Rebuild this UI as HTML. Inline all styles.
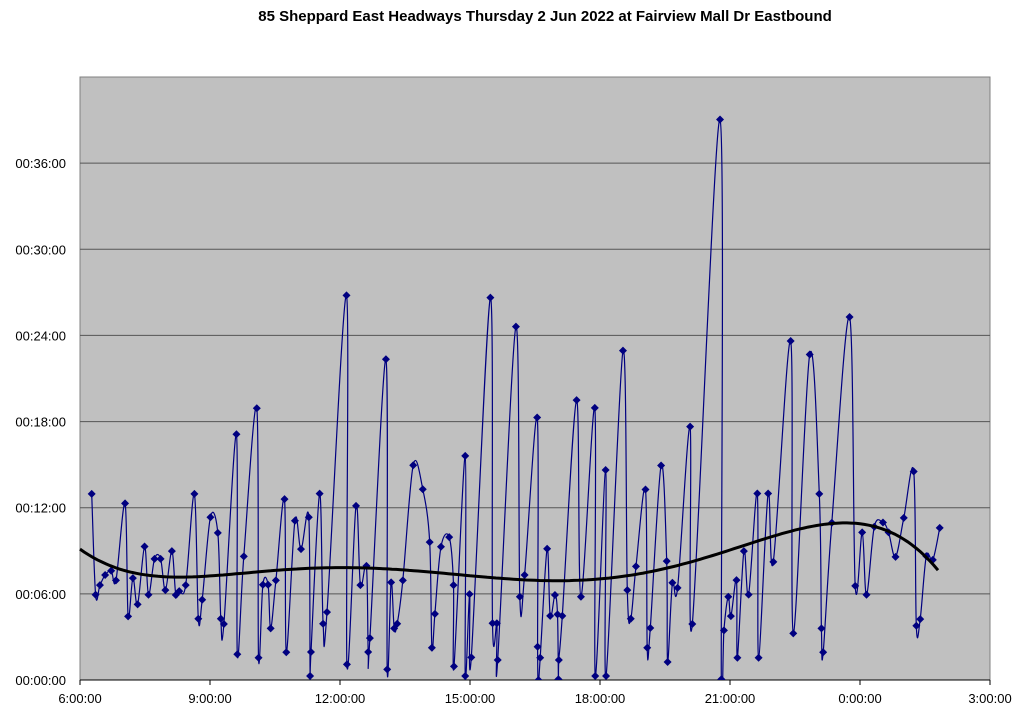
<!DOCTYPE html>
<html><head><meta charset="utf-8"><style>
body{margin:0;background:#fff;}
svg{display:block;font-family:"Liberation Sans",Arial,sans-serif;}
</style></head><body>
<svg id="chart" width="1024" height="714" viewBox="0 0 1024 714" xmlns="http://www.w3.org/2000/svg">
<defs><clipPath id="pc"><rect x="80" y="60" width="910" height="620"/></clipPath></defs>
<text x="545" y="21" text-anchor="middle" font-size="15" font-weight="bold">85 Sheppard East Headways Thursday 2 Jun 2022 at Fairview Mall Dr Eastbound</text>
<rect x="80" y="77" width="910" height="603" fill="#c0c0c0" stroke="#808080" stroke-width="1"/>
<g id="grid"></g>
<g id="axes"></g>
<g id="series" clip-path="url(#pc)"></g>
<g id="trend"></g>
</svg>
<script>
// time of day in hours (24+ = after midnight), headway in minutes
const times = [6.27,6.36,6.46,6.58,6.72,6.83,7.04,7.11,7.22,7.33,7.49,7.58,7.72,7.86,7.97,8.12,8.21,8.29,8.44,8.64,8.73,8.82,9.01,9.18,9.25,9.32,9.61,9.63,9.78,10.08,10.12,10.22,10.34,10.40,10.52,10.72,10.76,10.96,11.10,11.28,11.31,11.33,11.53,11.61,11.70,12.15,12.16,12.37,12.47,12.61,12.65,12.69,13.06,13.09,13.18,13.25,13.32,13.45,13.69,13.91,14.07,14.12,14.19,14.33,14.52,14.62,14.63,14.89,14.89,14.99,15.03,15.47,15.52,15.62,15.64,16.06,16.15,16.26,16.55,16.56,16.58,16.62,16.78,16.85,16.96,17.02,17.04,17.05,17.13,17.46,17.56,17.88,17.89,18.13,18.14,18.53,18.63,18.71,18.83,19.05,19.09,19.16,19.41,19.54,19.56,19.67,19.79,20.08,20.13,20.77,20.80,20.86,20.96,21.02,21.15,21.17,21.32,21.43,21.63,21.66,21.88,22.00,22.40,22.46,22.84,23.06,23.11,23.15,23.35,23.76,23.89,24.05,24.15,24.33,24.53,24.66,24.82,25.01,25.24,25.30,25.39,25.53,25.68,25.84];
const headways = [12.96,5.94,6.61,7.31,7.61,6.94,12.30,4.43,7.10,5.27,9.30,5.94,8.44,8.44,6.26,8.98,5.92,6.19,6.61,12.96,4.27,5.59,11.34,10.25,4.27,3.90,17.12,1.79,8.61,18.93,1.55,6.63,6.63,3.60,6.94,12.60,1.93,11.09,9.12,11.34,0.28,1.95,12.98,3.92,4.73,26.79,1.09,12.13,6.61,7.95,1.95,2.92,22.34,0.74,6.80,3.60,3.92,6.94,14.96,13.29,9.60,2.25,4.61,9.28,9.95,6.61,0.95,15.61,0.28,5.98,1.58,26.63,3.95,3.95,1.39,24.61,5.80,7.31,18.28,2.32,0.0,1.55,9.14,4.47,5.92,4.57,0.05,1.39,4.47,19.49,5.80,18.95,0.28,14.63,0.28,22.94,6.26,4.27,7.91,13.27,2.25,3.62,14.94,8.28,1.25,6.77,6.42,17.65,3.90,39.04,0.05,3.46,5.80,4.45,6.96,1.55,8.98,5.95,12.99,1.55,12.99,8.23,23.61,3.25,22.67,12.96,3.60,1.93,10.95,25.28,6.56,10.28,5.94,10.67,10.97,10.28,8.58,11.29,14.52,3.78,4.24,8.63,8.37,10.60];
const trendTimes = [6.0,7.6,9.0,12.0,15.0,17.0,19.0,21.0,23.3,24.0,25.8];
const trendValues = [9.12,7.3,7.2,7.9,7.2,6.9,7.5,9.05,10.85,10.9,7.65];
const yTicks = [0,6,12,18,24,30,36];
const yTickLabels = ["00:00:00","00:06:00","00:12:00","00:18:00","00:24:00","00:30:00","00:36:00"];
const xTicks = [6,9,12,15,18,21,24,27];
const xTickLabels = ["6:00:00","9:00:00","12:00:00","15:00:00","18:00:00","21:00:00","0:00:00","3:00:00"];

const NS="http://www.w3.org/2000/svg";
const X = t => 80 + (t-6)*(910/21);
const Y = m => 680 - m*(603/42);
function mk(tag, parent){const e=document.createElementNS(NS,tag);parent.appendChild(e);return e;}
const grid=document.getElementById('grid'), axes=document.getElementById('axes');
yTicks.forEach((v,i)=>{
  if(v>0){const l=mk('line',grid);
  
  
  l.setAttribute('x1',80);l.setAttribute('x2',990);l.setAttribute('y1',Y(v));l.setAttribute('y2',Y(v));
  l.setAttribute('stroke','#555');l.setAttribute('stroke-width','1');}
  const t=mk('text',axes);
  
  
  t.setAttribute('x',66);t.setAttribute('y',Y(v)+5);t.setAttribute('text-anchor','end');t.setAttribute('font-size','13');
  t.textContent=yTickLabels[i];
});
const xa=mk('line',axes);


xa.setAttribute('x1',80);xa.setAttribute('x2',990);xa.setAttribute('y1',680);xa.setAttribute('y2',680);xa.setAttribute('stroke','#000');
xTicks.forEach((v,i)=>{
  const l=mk('line',axes);
  
  
  l.setAttribute('x1',X(v));l.setAttribute('x2',X(v));l.setAttribute('y1',680);l.setAttribute('y2',685);l.setAttribute('stroke','#000');
  const t=mk('text',axes);
  
  
  t.setAttribute('x',X(v));t.setAttribute('y',703);t.setAttribute('text-anchor','middle');t.setAttribute('font-size','13');
  t.textContent=xTickLabels[i];
});
function spline(pts,k){
  let d='M'+pts[0][0].toFixed(1)+','+pts[0][1].toFixed(1);
  for(let i=0;i<pts.length-1;i++){
    const p0=pts[Math.max(i-1,0)],p1=pts[i],p2=pts[i+1],p3=pts[Math.min(i+2,pts.length-1)];
    const c1=[p1[0]+(p2[0]-p0[0])*k,p1[1]+(p2[1]-p0[1])*k];
    const c2=[p2[0]-(p3[0]-p1[0])*k,p2[1]-(p3[1]-p1[1])*k];
    d+=' C'+c1.map(n=>n.toFixed(1)).join(',')+' '+c2.map(n=>n.toFixed(1)).join(',')+' '+p2[0].toFixed(1)+','+p2[1].toFixed(1);
  }
  return d;
}
const series=document.getElementById('series');
const pts=times.map((t,i)=>[X(t),Y(headways[i])]);
const path=mk('path',series);


path.setAttribute('d',spline(pts,0.17));path.setAttribute('fill','none');path.setAttribute('stroke','#000080');path.setAttribute('stroke-width','1.2');
pts.forEach(p=>{
  const m=mk('polygon',series);
  
  
  m.setAttribute('points',`${p[0]},${p[1]-4} ${p[0]+4},${p[1]} ${p[0]},${p[1]+4} ${p[0]-4},${p[1]}`);
  m.setAttribute('fill','#000080');
});
// polynomial least-squares fit (degree 5) to trend knots
function polyfit(xs,ys,deg){
  const n=deg+1, A=[];
  for(let r=0;r<n;r++){A.push(new Array(n+1).fill(0));}
  xs.forEach((x0,i)=>{const x=(x0-16)/10;
    for(let r=0;r<n;r++){for(let c=0;c<n;c++)A[r][c]+=Math.pow(x,r+c);A[r][n]+=ys[i]*Math.pow(x,r);}});
  for(let c=0;c<n;c++){let p=c;for(let r=c+1;r<n;r++)if(Math.abs(A[r][c])>Math.abs(A[p][c]))p=r;
    [A[c],A[p]]=[A[p],A[c]];
    for(let r=0;r<n;r++){if(r===c)continue;const f=A[r][c]/A[c][c];for(let k=c;k<=n;k++)A[r][k]-=f*A[c][k];}}
  const co=A.map((row,i)=>row[n]/row[i]);
  return t=>{const x=(t-16)/10;let s=0;co.forEach((c,i)=>s+=c*Math.pow(x,i));return s;};
}
const f=polyfit(trendTimes,trendValues,5);
let td='';
for(let t=trendTimes[0];t<=trendTimes[trendTimes.length-1]+1e-9;t+=0.1){td+=(td?' L':'M')+X(t).toFixed(1)+','+Y(f(t)).toFixed(1);}
const trend=document.getElementById('trend');
const tp=mk('path',trend);


tp.setAttribute('d',td);
tp.setAttribute('fill','none');tp.setAttribute('stroke','#000');tp.setAttribute('stroke-width','3');
</script>
</body></html>
